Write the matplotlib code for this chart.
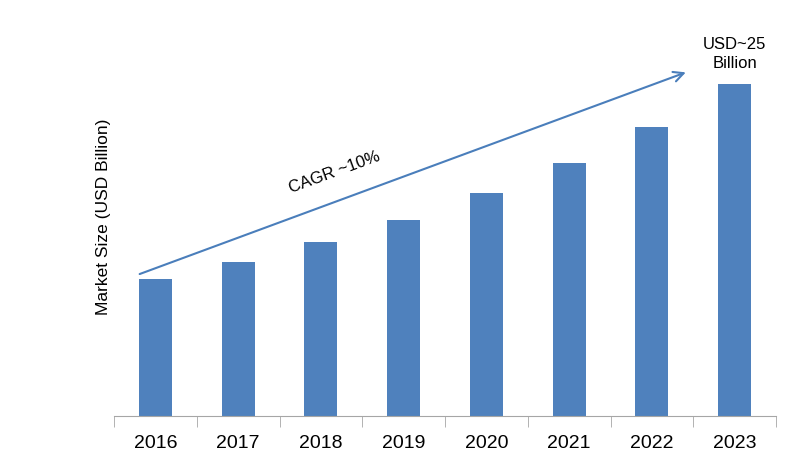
import matplotlib
matplotlib.use("Agg")
import matplotlib.pyplot as plt
from matplotlib import font_manager

years = ["2016", "2017", "2018", "2019", "2020", "2021", "2022", "2023"]
values = [10.3, 11.6, 13.1, 14.8, 16.8, 19.1, 21.8, 25.0]
cagr_label = "CAGR ~10%"
end_label = "USD~25\nBillion"
ylabel = "Market Size (USD Billion)"

names = {f.name for f in font_manager.fontManager.ttflist}
narrow = "Liberation Sans Narrow" if "Liberation Sans Narrow" in names else "Liberation Sans"

fig = plt.figure(figsize=(8, 4.61), dpi=100)
ax = fig.add_axes([0.1425, 0.0976, 0.8275, 0.8634])
x = list(range(len(years)))
ax.bar(x, values, width=0.4, color="#4f81bd")
ax.set_xlim(-0.5, len(years) - 0.5)
ax.set_ylim(0, 30)

for s in ["top", "right", "left"]:
    ax.spines[s].set_visible(False)
ax.spines["bottom"].set_color("#a6a6a6")
ax.set_yticks([])
ax.set_xticks(x)
ax.set_xticklabels(years, fontfamily=narrow, fontsize=14)
ax.set_xticks([i - 0.5 for i in range(len(years) + 1)], minor=True)
ax.tick_params(axis="x", which="major", length=0, pad=14)
ax.tick_params(axis="x", which="minor", length=8, color="#a6a6a6")

ax.set_ylabel(ylabel, fontfamily="Liberation Sans", fontsize=12.5, labelpad=2)

ax.annotate("", xy=(6.41, 25.9), xytext=(-0.19, 10.7),
            arrowprops=dict(arrowstyle="->", color="#4a7ebb", lw=1.5,
                            mutation_scale=18, shrinkA=0, shrinkB=0))
ax.text(2.17, 18.4, cagr_label, rotation=20, ha="center", va="center",
        fontfamily=narrow, fontsize=12, color="black")
ax.text(7, 27.3, end_label, ha="center", va="center", fontfamily=narrow,
        fontsize=12, linespacing=1.3)

fig.savefig("out.png", dpi=100)
